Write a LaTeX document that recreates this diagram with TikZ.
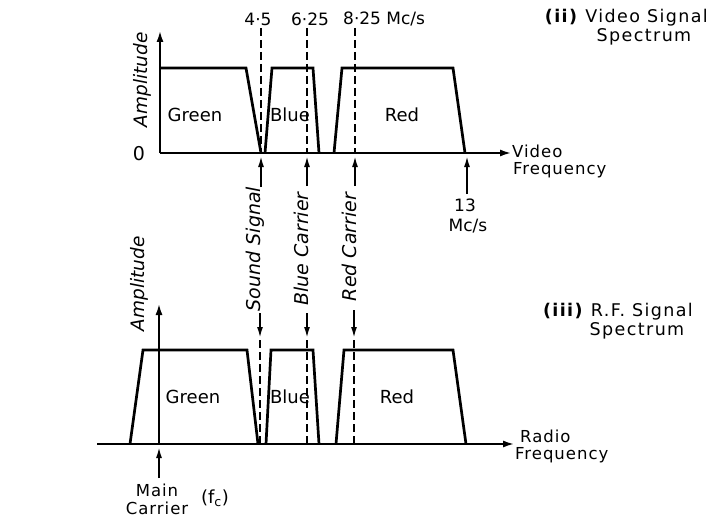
\documentclass[tikz,border=0pt]{standalone}
\usepackage{fontspec}
\setmainfont{DejaVu Sans}
\usetikzlibrary{arrows.meta}
\begin{document}
\begin{tikzpicture}[x=1pt,y=-1pt,
  band/.style={line width=2.7pt, line join=miter},
  axis/.style={line width=2.7pt, -{Latex[length=12pt,width=7pt]}},
  guide/.style={line width=1.8pt, dash pattern=on 8pt off 4pt},
  ptr/.style={line width=1.8pt, -{Latex[length=11pt,width=6pt]}},
  lbl/.style={font=\fontsize{18}{20}\selectfont, inner sep=0pt},
  tick/.style={font=\fontsize{17}{19}\selectfont, inner sep=0pt},
  two/.style={font=\fontsize{16.5}{17}\selectfont\addfontfeatures{LetterSpace=6}, inner sep=0pt},
  rlbl/.style={font=\fontsize{19}{20}\selectfont\itshape, rotate=90, inner sep=0pt},
  ttl/.style={font=\fontsize{17.5}{18}\selectfont\addfontfeatures{LetterSpace=8}, inner sep=0pt}]
\useasboundingbox (0,0) rectangle (710,519);

% ---------------- upper chart: video signal spectrum
\coordinate (uO) at (160,153);
\coordinate (uY) at (160,30);
\coordinate (uX) at (512,153);
\draw[axis] (uO) -- (uY);
\draw[axis] (uO) -- (uX);
\draw[band] (160,68) -- (246,68) -- (261,153);
\draw[band] (265,153) -- (272,68) -- (313,68) -- (319,153);
\draw[band] (334,153) -- (342,68) -- (453,68) -- (465,153);

\node[lbl] (ug) at (195,115) {Green};
\node[lbl] (ub) at (290,115) {Blue};
\node[lbl] (ur) at (402,115) {Red};
\node[font=\fontsize{19}{20}\selectfont, inner sep=0pt] (zero) at (139,154) {0};
\node[rlbl, font=\fontsize{18.5}{20}\selectfont\itshape] (uamp) at (142,80) {Amplitude};

\node[tick] (t45) at (258,19) {4·5};
\node[tick] (t625) at (310,19) {6·25};
\node[tick, anchor=west] (t825) at (343,19) {8·25 Mc/s};

\coordinate (d1t) at (261,28);  \coordinate (d1b) at (261,153);
\coordinate (d2t) at (307,28);  \coordinate (d2b) at (307,153);
\coordinate (d3t) at (355,28);  \coordinate (d3b) at (355,153);
\draw[guide] (d1t) -- (d1b);
\draw[guide] (d2t) -- (d2b);
\draw[guide] (d3t) -- (d3b);

\node[two, anchor=west] (vid) at (512,151) {Video};
\node[two, anchor=west] (vfr) at (513,170) {Frequency};

\node[ttl, anchor=east] (tt2) at (708,18) {\textbf{(ii)} Video Signal};
\node[ttl] (tt2b) at (644,37) {Spectrum};

% 13 Mc/s
\node[tick] (t13) at (465,205) {13};
\node[tick] (t13u) at (468,226) {Mc/s};
\coordinate (a13s) at (467,194);
\coordinate (a13e) at (467,156);
\draw[ptr] (a13s) -- (a13e);

% ---------------- shared carrier labels
\node[rlbl] (ss) at (255,249) {Sound Signal};
\node[rlbl] (bc) at (301,249) {Blue Carrier};
\node[rlbl] (rc) at (349,247) {Red Carrier};

\coordinate (s1) at (261,187); \coordinate (s1e) at (261,156);
\coordinate (s2) at (307,186); \coordinate (s2e) at (307,156);
\coordinate (s3) at (355,186); \coordinate (s3e) at (355,156);
\draw[ptr] (s1) -- (s1e);
\draw[ptr] (s2) -- (s2e);
\draw[ptr] (s3) -- (s3e);

\coordinate (l1) at (260,313); \coordinate (l1e) at (260,338);
\coordinate (l2) at (307,313); \coordinate (l2e) at (307,338);
\coordinate (l3) at (354,310); \coordinate (l3e) at (354,338);
\draw[ptr] (l1) -- (l1e);
\draw[ptr] (l2) -- (l2e);
\draw[ptr] (l3) -- (l3e);

% ---------------- lower chart: RF spectrum
\coordinate (lO) at (159,444);
\coordinate (lL) at (97,444);
\coordinate (lY) at (159,303);
\coordinate (lX) at (515,444);
\draw[axis] (lO) -- (lY);
\draw[axis] (lL) -- (lX);
\draw[band] (130,444) -- (143,350) -- (247,350) -- (258,444);
\draw[band] (266,444) -- (271,350) -- (313,350) -- (319,444);
\draw[band] (336,444) -- (344,350) -- (453,350) -- (466,444);

\coordinate (e1t) at (260,340); \coordinate (e1b) at (260,444);
\coordinate (e2t) at (307,340); \coordinate (e2b) at (307,444);
\coordinate (e3t) at (354,340); \coordinate (e3b) at (354,444);
\draw[guide] (e1t) -- (e1b);
\draw[guide] (e2t) -- (e2b);
\draw[guide] (e3t) -- (e3b);

\node[lbl] (lg) at (193,397) {Green};
\node[lbl] (lb) at (290,397) {Blue};
\node[lbl] (lr) at (397,397) {Red};
\node[rlbl, font=\fontsize{18.5}{20}\selectfont\itshape] (lamp) at (139,284) {Amplitude};

\node[two, anchor=west] (rad) at (520,436) {Radio};
\node[two, anchor=west] (rfr) at (515,455) {Frequency};

\node[ttl, anchor=east] (tt3) at (693,312) {\textbf{(iii)} R.F. Signal};
\node[ttl] (tt3b) at (637,331) {Spectrum};

% main carrier
\coordinate (mcs) at (159,478);
\coordinate (mce) at (159,447);
\draw[ptr] (mcs) -- (mce);
\node[two] (mn) at (157,490) {Main};
\node[two] (mc) at (157,508) {Carrier};
\node[font=\fontsize{18}{20}\selectfont, inner sep=0pt] (fc) at (215,498) {(f\textsubscript{c})};
\end{tikzpicture}
\end{document}
